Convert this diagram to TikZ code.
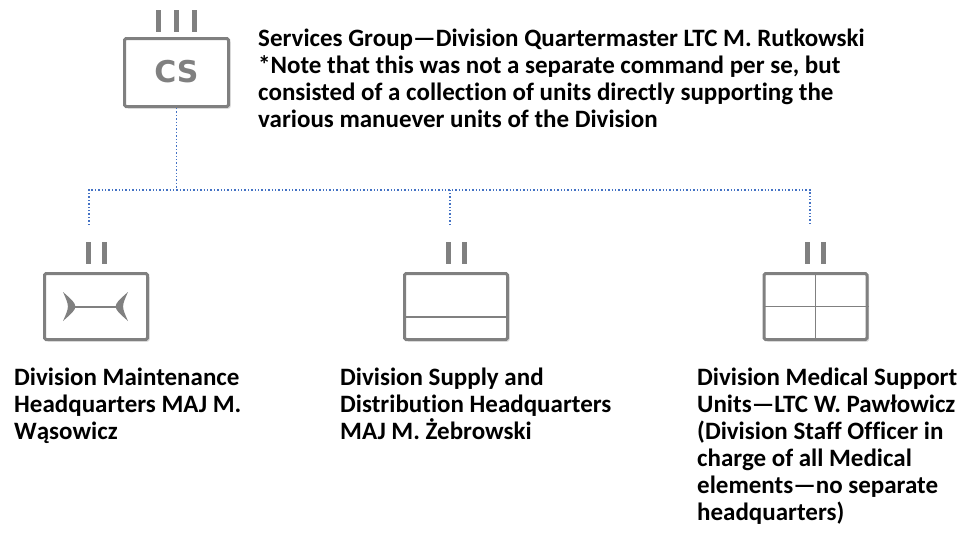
\documentclass[tikz,border=0pt]{standalone}
\usepackage{fontspec}
\setmainfont{Carlito}[Ligatures=NoCommon]
\newfontfamily\symbfont{DejaVu Sans}
\usepackage{xcolor}
\definecolor{symgray}{RGB}{128,128,128}
\definecolor{linkblue}{RGB}{68,114,196}
\usepackage{tikz}
\usetikzlibrary{shadows}

\tikzset{
  unitbox/.style={draw=symgray, line width=3pt, fill=white, rounded corners=1.5pt, inner sep=0pt,
    drop shadow={opacity=0.3, shadow xshift=2pt, shadow yshift=-2pt}},
  echelon/.style={symgray, line width=5pt},
  innerline/.style={symgray, line width=1.8pt},
  link/.style={linkblue, dotted, line width=1.4pt},
  % base anchor sits on the last line
  unittext/.style={font=\bfseries\fontsize{25}{27}\selectfont, align=left, anchor=base west, inner sep=0pt},
}

\begin{document}
\begin{tikzpicture}[x=1pt, y=-1pt]
  \useasboundingbox (0,0) rectangle (976,554);

  % --- Top: Services Group ---
  \node[unitbox, minimum width=104pt, minimum height=68pt] (cs) at (176.5,72.5) {};
  \node[font=\symbfont\bfseries\fontsize{30}{30}\selectfont, symgray] (cslbl) at (176.5,71.5) {CS};
  \foreach \dx in {-18,0,18}
    \draw[echelon] ([xshift=\dx pt]cs.north) ++(0,-5.5) -- ++(0,-22);

  \node[unittext] (cstext) at (258,127) {Services Group---Division Quartermaster LTC M. Rutkowski\\
    *Note that this was not a separate command per se, but\\
    consisted of a collection of units directly supporting the\\
    various manuever units of the Division};

  % --- Bottom: three units ---
  \node[unitbox, minimum width=103pt, minimum height=66pt] (maint) at (96,306.5) {};
  \node[unitbox, minimum width=103pt, minimum height=66pt] (supply) at (456,306.5) {};
  \node[unitbox, minimum width=103pt, minimum height=66pt] (med) at (815.5,306.5) {};

  \foreach \unit in {maint, supply, med}
    \foreach \dx in {-8,8}
      \draw[echelon] ([xshift=\dx pt]\unit.north) ++(0,-8.5) -- ++(0,-22);

  % maintenance symbol
  \fill[symgray] ([shift={(-33,-14.5)}]maint.center) .. controls ([shift={(-16.5,0)}]maint.center) .. ([shift={(-33,14.5)}]maint.center)
    .. controls ([shift={(-26.5,0)}]maint.center) .. ([shift={(-33,-14.5)}]maint.center) -- cycle;
  \fill[symgray] ([shift={(32,-14.5)}]maint.center) .. controls ([shift={(15.5,0)}]maint.center) .. ([shift={(32,14.5)}]maint.center)
    .. controls ([shift={(25.5,0)}]maint.center) .. ([shift={(32,-14.5)}]maint.center) -- cycle;
  \draw[symgray, line width=2pt] ([xshift=-24pt]maint.center) -- ([xshift=23pt]maint.center);

  % supply symbol
  \draw[innerline] (supply.west |- 0,317) -- (supply.east |- 0,317);

  % medical symbol
  \draw[innerline] (med.west) -- (med.east);
  \draw[innerline] (med.north) -- (med.south);

  % --- Connectors ---
  \coordinate (bus) at (cs.south |- 0,190);
  \coordinate (dropL) at (89,225);
  \coordinate (dropM) at (450,225);
  \coordinate (dropR) at (810,225);
  \draw[link] (cs.south) -- (bus);
  \draw[link] (dropL) |- (bus) -| (dropR);
  \draw[link] (dropM) -- (dropM |- bus);

  % --- Unit texts ---
  \node[unittext] (mainttext) at (14,439) {Division Maintenance\\Headquarters MAJ M.\\Wąsowicz};
  \node[unittext] (supplytext) at (340,439) {Division Supply and\\Distribution Headquarters\\MAJ M. Żebrowski};
  \node[unittext] (medtext) at (697,520) {Division Medical Support\\Units---LTC W. Pawłowicz\\(Division Staff Officer in\\charge of all Medical\\elements---no separate\\headquarters)};
\end{tikzpicture}
\end{document}
